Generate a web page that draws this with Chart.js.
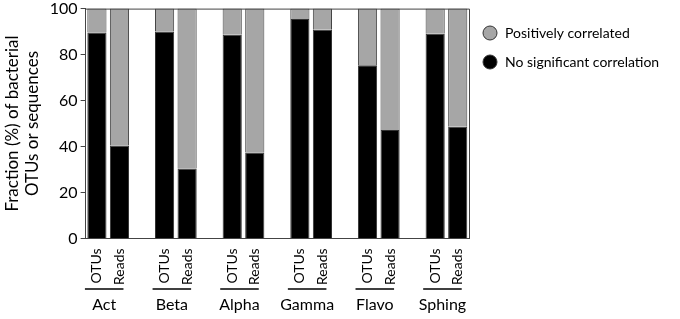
<!DOCTYPE html>
<html>
<head>
<meta charset="utf-8">
<script src="https://cdn.jsdelivr.net/npm/chart.js@4/dist/chart.umd.min.js"></script>
<style>
  html, body { margin: 0; padding: 0; background: #fff; overflow: hidden; }
  #wrap { width: 680px; height: 323px; margin-top: -4px; }
</style>
</head>
<body>
<div id="wrap"><canvas id="frac"></canvas></div>
<script>
const groups = ['Act', 'Beta', 'Alpha', 'Gamma', 'Flavo', 'Sphing'];
const kinds = ['OTUs', 'Reads'];
// values per group, in order OTUs, Reads
const noSignificant = [89.6, 40.4, 90.0, 30.4, 88.6, 37.4, 95.5, 90.8, 75.4, 47.2, 89.1, 48.6];
const positive = [10.4, 59.6, 10.0, 69.6, 11.4, 62.6, 4.5, 9.2, 24.6, 52.8, 10.9, 51.4];
const yTicks = [0, 20, 40, 60, 80, 100];

// 17 slots: two bars per group, one empty slot between groups
const slotLabels = [];
const blackData = [];
const grayData = [];
groups.forEach(function (g, i) {
	kinds.forEach(function (k, j) {
		slotLabels.push(k);
		blackData.push(noSignificant[i * 2 + j]);
		grayData.push(positive[i * 2 + j]);
	});
	if (i < groups.length - 1) {
		slotLabels.push('');
		blackData.push(null);
		grayData.push(null);
	}
});

const FONT = 'Lato, "DejaVu Sans", sans-serif';
const SHIFT = 4; // canvas is moved up by this much

const extras = {
	id: 'extras',
	afterDraw(chart) {
		const ctx = chart.ctx;
		const xs = chart.scales.x;
		const ca = chart.chartArea;
		ctx.save();
		// group underlines and names
		ctx.strokeStyle = '#000';
		ctx.lineWidth = 1.5;
		ctx.fillStyle = '#000';
		ctx.font = '16px ' + FONT;
		ctx.textAlign = 'center';
		ctx.textBaseline = 'middle';
		groups.forEach(function (g, i) {
			const a = xs.getPixelForValue(i * 3) - 12;
			const b = xs.getPixelForValue(i * 3 + 1) + 4;
			ctx.beginPath();
			ctx.moveTo(a, 289 + SHIFT);
			ctx.lineTo(b, 289 + SHIFT);
			ctx.stroke();
			ctx.fillText(g, (a + b) / 2, 305 + SHIFT);
		});
		// frame top and right
		ctx.strokeStyle = '#444';
		ctx.lineWidth = 1;
		ctx.beginPath();
		ctx.moveTo(ca.left, ca.top + 0.5);
		ctx.lineTo(ca.right + 0.5, ca.top + 0.5);
		ctx.lineTo(ca.right + 0.5, ca.bottom);
		ctx.stroke();
		// legend, gray entry first
		ctx.font = '14px ' + FONT;
		ctx.textAlign = 'left';
		const order = [1, 0];
		order.forEach(function (d, n) {
			const ds = chart.data.datasets[d];
			const cy = 33 + SHIFT + n * 29;
			ctx.beginPath();
			ctx.arc(490, cy, 7, 0, Math.PI * 2);
			ctx.fillStyle = ds.backgroundColor;
			ctx.fill();
			ctx.strokeStyle = '#333';
			ctx.stroke();
			ctx.fillStyle = '#000';
			ctx.fillText(ds.label, 505, cy);
		});
		ctx.restore();
	}
};

const chrt = document.getElementById('frac').getContext('2d');
const frac = new Chart(chrt, {
	type: 'bar',
	data: {
		labels: slotLabels,
		datasets: [{
			label: 'No significant correlation',
			data: blackData,
			backgroundColor: '#000',
			borderColor: '#333',
			borderWidth: 1,
			barPercentage: 0.85,
			categoryPercentage: 1
		}, {
			label: 'Positively correlated',
			data: grayData,
			backgroundColor: '#a6a6a6',
			borderColor: '#444',
			borderWidth: 1,
			barPercentage: 0.85,
			categoryPercentage: 1
		}]
	},
	options: {
		responsive: true,
		maintainAspectRatio: false,
		animation: false,
		layout: { padding: { top: 0, left: 2, bottom: 32, right: 211 } },
		plugins: {
			legend: { display: false },
			tooltip: { enabled: false }
		},
		scales: {
			x: {
				stacked: true,
				grid: { display: false },
				border: { color: '#444', width: 1 },
				ticks: {
					minRotation: 90,
					maxRotation: 90,
					autoSkip: false,
					padding: 2,
					color: '#000',
					font: { family: FONT, size: 14 }
				}
			},
			y: {
				stacked: true,
				min: 0,
				max: 100,
				afterBuildTicks: function (axis) {
					axis.ticks = yTicks.map(function (v) { return { value: v }; });
				},
				grid: { display: true, drawOnChartArea: false, tickLength: 5, color: '#444' },
				border: { color: '#444', width: 1 },
				ticks: {
					padding: 3,
					color: '#000',
					font: { family: FONT, size: 16 }
				},
				title: {
					display: true,
					text: ['Fraction (%) of bacterial', 'OTUs or sequences'],
					color: '#000',
					font: { family: FONT, size: 17 },
					padding: { top: 0, bottom: 4 }
				}
			}
		}
	},
	plugins: [extras]
});
</script>
</body>
</html>
